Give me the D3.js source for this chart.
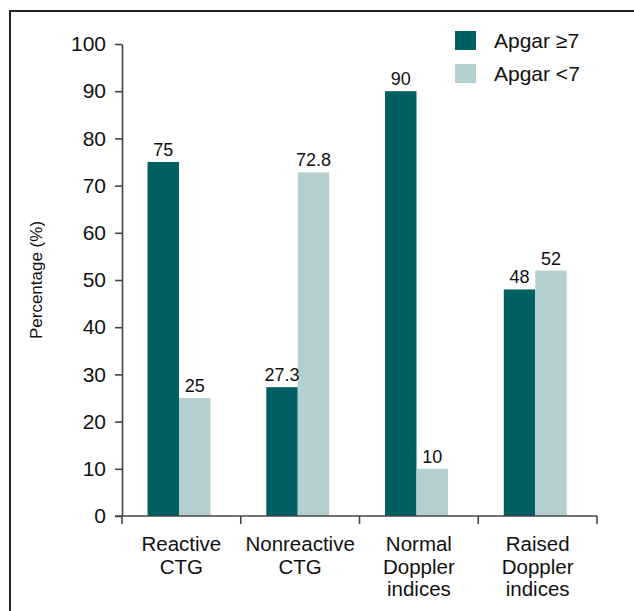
<!DOCTYPE html>
<html>
<head>
<meta charset="utf-8">
<script src="https://cdn.jsdelivr.net/npm/d3@7"></script>
<style>
  html, body { margin: 0; padding: 0; background: #fff; }
  svg { display: block; font-family: "Liberation Sans", Arial, sans-serif; }
</style>
</head>
<body>
<svg id="chart" width="634" height="611"></svg>
<script>
// Categories (each split into its display lines) and the two Apgar series
const categories = ["Reactive CTG", "Nonreactive CTG", "Normal Doppler indices", "Raised Doppler indices"];
const categoryLines = [["Reactive", "CTG"], ["Nonreactive", "CTG"], ["Normal", "Doppler", "indices"], ["Raised", "Doppler", "indices"]];
const seriesNames = ["Apgar \u22657", "Apgar <7"];
const apgarHigh = [75, 27.3, 90, 48];
const apgarLow = [25, 72.8, 10, 52];
const yTicks = [0, 10, 20, 30, 40, 50, 60, 70, 80, 90, 100];

const colors = ["#005f60", "#b4d0d0"];
const axisColor = "#444";

const svg = d3.select("#chart");

// Outer frame
svg.append("rect")
  .attr("x", 10).attr("y", 11)
  .attr("width", 660).attr("height", 640)
  .attr("fill", "none").attr("stroke", "#222").attr("stroke-width", 2);

const plotLeft = 122, plotRight = 597, plotTop = 44, plotBottom = 516;

const x0 = d3.scaleBand().domain(categories).range([plotLeft, plotRight]).padding(0);
const bw = x0.bandwidth();
const x1 = d3.scaleBand().domain(seriesNames).range([bw * 0.215, bw * 0.745]).padding(0);
const y = d3.scaleLinear().domain([0, 100]).range([plotBottom, plotTop]);

const rows = categories.map((c, i) => ({
  cat: c,
  values: [
    { key: seriesNames[0], value: apgarHigh[i], color: colors[0] },
    { key: seriesNames[1], value: apgarLow[i], color: colors[1] }
  ]
}));

// Bars
const groups = svg.append("g").selectAll("g")
  .data(rows).join("g")
  .attr("transform", d => `translate(${x0(d.cat)},0)`);

groups.selectAll("rect")
  .data(d => d.values).join("rect")
  .attr("x", d => x1(d.key))
  .attr("width", x1.bandwidth())
  .attr("y", d => y(d.value))
  .attr("height", d => y(0) - y(d.value))
  .attr("fill", d => d.color);

// Value labels
groups.selectAll("text")
  .data(d => d.values).join("text")
  .attr("x", d => x1(d.key) + x1.bandwidth() / 2)
  .attr("y", d => y(d.value) - 6)
  .attr("text-anchor", "middle")
  .attr("font-size", 18)
  .attr("fill", "#111")
  .text(d => String(d.value));

// Y axis
const yAxis = svg.append("g")
  .attr("transform", `translate(${plotLeft},0)`)
  .call(d3.axisLeft(y).tickValues(yTicks).tickSize(7).tickSizeOuter(0).tickPadding(9));
yAxis.select(".domain").attr("stroke", axisColor).attr("stroke-width", 1.6);
yAxis.selectAll(".tick line").attr("stroke", axisColor).attr("stroke-width", 1.6);
yAxis.selectAll(".tick text")
  .attr("font-size", 21)
  .attr("font-family", "Liberation Sans, Arial, sans-serif")
  .attr("fill", "#111");

// X axis: baseline with ticks at category boundaries
const xAxis = svg.append("g");
xAxis.append("line")
  .attr("x1", plotLeft - 7).attr("x2", plotRight)
  .attr("y1", y(0)).attr("y2", y(0))
  .attr("stroke", axisColor).attr("stroke-width", 1.6);
const boundaries = categories.map(c => x0(c)).concat([x0.range()[1]]);
xAxis.selectAll("line.tick")
  .data(boundaries).join("line")
  .attr("class", "tick")
  .attr("x1", d => d).attr("x2", d => d)
  .attr("y1", y(0)).attr("y2", y(0) + 8)
  .attr("stroke", axisColor).attr("stroke-width", 1.6);

// Category labels
const catLabels = svg.append("g").selectAll("text")
  .data(categories).join("text")
  .attr("text-anchor", "middle")
  .attr("font-size", 20.5)
  .attr("fill", "#111")
  .attr("transform", d => `translate(${x0(d) + bw / 2},${y(0) + 35})`);
catLabels.selectAll("tspan")
  .data((d, i) => categoryLines[i]).join("tspan")
  .attr("x", 0)
  .attr("dy", (d, i) => i === 0 ? 0 : 22.5)
  .text(d => d);

// Y axis title
svg.append("text")
  .attr("transform", `translate(42,${(plotTop + plotBottom) / 2}) rotate(-90)`)
  .attr("text-anchor", "middle")
  .attr("font-size", 17)
  .attr("fill", "#111")
  .text("Percentage (%)");

// Legend
const legend = svg.append("g").attr("transform", "translate(455,31)");
const items = legend.selectAll("g").data(seriesNames).join("g")
  .attr("transform", (d, i) => `translate(0,${i * 33})`);
items.append("rect")
  .attr("width", 21).attr("height", 19)
  .attr("fill", (d, i) => colors[i]);
items.append("text")
  .attr("x", 39).attr("y", 10)
  .attr("dy", "0.35em")
  .attr("font-size", 21)
  .attr("fill", "#111")
  .text(d => d);
</script>
</body>
</html>
